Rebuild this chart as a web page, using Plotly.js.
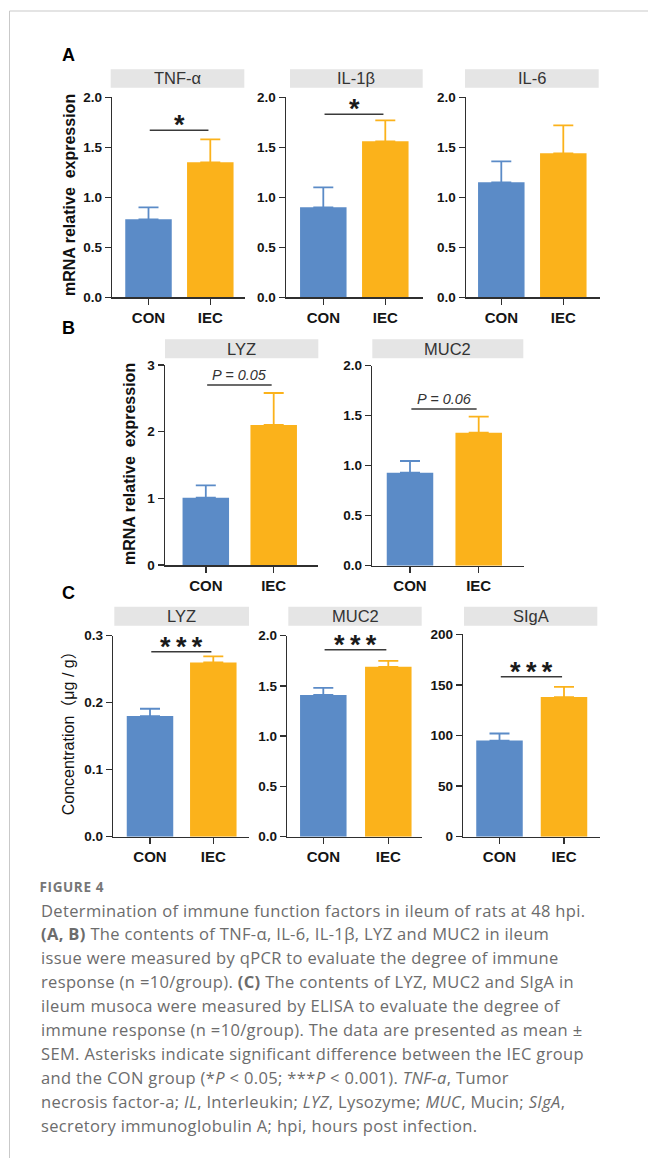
<!DOCTYPE html>
<html>
<head>
<meta charset="utf-8">
<script src="https://cdn.plot.ly/plotly-3.0.1.min.js"></script>
<style>
  html, body { margin: 0; padding: 0; background: #fff; }
  #chart { width: 648px; height: 1158px; }
</style>
</head>
<body>
<div id="chart"></div>
<script>
// ---------------- DATA ----------------
const categories = ['CON', 'IEC'];
const panelTitles = ['TNF-α', 'IL-1β', 'IL-6', 'LYZ', 'MUC2', 'LYZ', 'MUC2', 'SIgA'];
const meanCON = [0.78, 0.90, 1.15, 1.01, 0.93, 0.180, 1.41, 95];
const meanIEC = [1.35, 1.56, 1.44, 2.10, 1.33, 0.260, 1.69, 138];
const semCON  = [0.12, 0.20, 0.21, 0.185, 0.117, 0.011, 0.07, 7];
const semIEC  = [0.23, 0.21, 0.28, 0.48, 0.16, 0.009, 0.06, 10];
const yMax    = [2, 2, 2, 3, 2, 0.3, 2, 200];
const yStep   = [0.5, 0.5, 0.5, 1, 0.5, 0.1, 0.5, 50];
const yFormat = ['.1f', '.1f', '.1f', 'd', '.1f', '.1f', '.1f', 'd'];
const sigLabels = ['*', '*', '', 'P = 0.05', 'P = 0.06', '***', '***', '***'];
const sigLevels = [1.67, 1.83, null, 2.70, 1.567, 0.276, 1.86, 158];
const panelLetters = ['A', 'B', 'C'];
const yTitles = ['mRNA relative\u00a0 expression', 'mRNA relative\u00a0 expression', 'Concentration\uff08\u03bcg / g\uff09'];
const captionHead = 'FIGURE 4';
const captionLines = [
  'Determination of immune function factors in ileum of rats at 48 hpi.',
  '<b>(A, B)</b> The contents of TNF-α, IL-6, IL-1β, LYZ and MUC2 in ileum',
  'issue were measured by qPCR to evaluate the degree of immune',
  'response (n =10/group). <b>(C)</b> The contents of LYZ, MUC2 and SIgA in',
  'ileum musoca were measured by ELISA to evaluate the degree of',
  'immune response (n =10/group). The data are presented as mean ±',
  'SEM. Asterisks indicate significant difference between the IEC group',
  'and the CON group (*<i>P</i> &lt; 0.05; ***<i>P</i> &lt; 0.001). <i>TNF-a</i>, Tumor',
  'necrosis factor-a; <i>IL</i>, Interleukin; <i>LYZ</i>, Lysozyme; <i>MUC</i>, Mucin; <i>SIgA</i>,',
  'secretory immunoglobulin A; hpi, hours post infection.'
];

// ---------------- LAYOUT GEOMETRY (pixels) ----------------
const W = 648, H = 1158;
const geo = [
  {x0:112.3, x1:245,   c0:148.5, c1:210.3, yt:97.3,  yb:297.3, sx0:110.7, sx1:244.3, sy0:69.3,  sy1:87.7},
  {x0:286,   x1:422.7, c0:323.3, c1:385.3, yt:97.3,  yb:297.3, sx0:290,   sx1:422.7, sy0:69.3,  sy1:87.7},
  {x0:466,   x1:600,   c0:501.3, c1:563.3, yt:97.3,  yb:297.3, sx0:465,   sx1:598.7, sy0:69.3,  sy1:87.7},
  {x0:165,   x1:318.3, c0:205.8, c1:273.7, yt:365,   yb:565,   sx0:165,   sx1:318.3, sy0:339.3, sy1:358.3},
  {x0:372.3, x1:524,   c0:410,   c1:478.7, yt:365.7, yb:565.7, sx0:372.3, sx1:523.3, sy0:339.3, sy1:358.3},
  {x0:113.3, x1:249,   c0:150,   c1:213.3, yt:635.7, yb:836.7, sx0:114.3, sx1:249,   sy0:606.7, sy1:625.7},
  {x0:287.3, x1:421.7, c0:323.3, c1:388.3, yt:635.7, yb:836.7, sx0:288.3, sx1:421.7, sy0:606.7, sy1:625.7},
  {x0:463.3, x1:600,   c0:499.5, c1:564,   yt:634.3, yb:836.7, sx0:464,   sx1:597.3, sy0:606.7, sy1:625.7}
];
const px = v => v / W;
const py = v => 1 - v / H;

const BLUE = '#5b8bc7', ORANGE = '#fbb21b';
const FONT = 'Liberation Sans, Arial, sans-serif';
const AXC = '#2f2f2f';

const traces = [];
const layout = {
  width: W, height: H,
  margin: {l: 0, r: 0, t: 0, b: 0},
  paper_bgcolor: '#fff', plot_bgcolor: 'rgba(0,0,0,0)',
  showlegend: false, barmode: 'overlay',
  font: {family: FONT, color: '#222'},
  shapes: [], annotations: []
};

geo.forEach((g, i) => {
  const n = i + 1;
  const xa = 'xaxis' + (n === 1 ? '' : n), ya = 'yaxis' + (n === 1 ? '' : n);
  const xr = 'x' + (n === 1 ? '' : n), yr = 'y' + (n === 1 ? '' : n);
  const s = g.c1 - g.c0;
  const bw = 46.5 / s;
  layout[xa] = {
    domain: [px(g.x0), px(g.x1)], anchor: yr,
    type: 'category', categoryorder: 'array', categoryarray: categories,
    range: [-(g.c0 - g.x0) / s, 1 + (g.x1 - g.c1) / s],
    showline: true, linecolor: AXC, linewidth: 1.5,
    ticks: 'outside', ticklen: 6, tickwidth: 1.5, tickcolor: AXC,
    tickfont: {family: FONT, size: 15, color: '#151515', weight: 'bold'},
    showgrid: false, zeroline: false, fixedrange: true
  };
  layout[ya] = {
    domain: [py(g.yb), py(g.yt)], anchor: xr,
    range: [0, yMax[i]], dtick: yStep[i], tick0: 0, tickformat: yFormat[i],
    showline: true, linecolor: AXC, linewidth: 1.5,
    ticks: 'outside', ticklen: 6, tickwidth: 1.5, tickcolor: AXC,
    tickfont: {family: FONT, size: 13.5, color: '#151515', weight: 'bold'},
    showgrid: false, zeroline: false, fixedrange: true
  };
  traces.push({
    type: 'bar', x: [categories[0]], y: [meanCON[i]], xaxis: xr, yaxis: yr,
    width: bw, marker: {color: BLUE, line: {width: 0}},
    error_y: {type: 'data', symmetric: false, array: [semCON[i]], arrayminus: [0],
              color: BLUE, thickness: 1.8, width: 10},
    hoverinfo: 'skip'
  });
  traces.push({
    type: 'bar', x: [categories[1]], y: [meanIEC[i]], xaxis: xr, yaxis: yr,
    width: bw, marker: {color: ORANGE, line: {width: 0}},
    error_y: {type: 'data', symmetric: false, array: [semIEC[i]], arrayminus: [0],
              color: ORANGE, thickness: 1.8, width: 10},
    hoverinfo: 'skip'
  });
  // strip header
  layout.shapes.push({type: 'rect', xref: 'paper', yref: 'paper',
    x0: px(g.sx0), x1: px(g.sx1), y0: py(g.sy1), y1: py(g.sy0),
    fillcolor: '#e5e5e5', line: {width: 0}, layer: 'below'});
  layout.annotations.push({xref: 'paper', yref: 'paper',
    x: px((g.sx0 + g.sx1) / 2), y: py((g.sy0 + g.sy1) / 2),
    xanchor: 'center', yanchor: 'middle', showarrow: false,
    text: panelTitles[i], font: {family: FONT, size: 16.5, color: '#333'}});
  // significance bracket
  if (sigLevels[i] !== null) {
    layout.shapes.push({type: 'line', xref: xr, yref: yr,
      x0: 0.02, x1: 0.97, y0: sigLevels[i], y1: sigLevels[i],
      line: {color: '#3a3a3a', width: 1.4}});
    const isP = sigLabels[i].startsWith('P');
    layout.annotations.push({xref: xr, yref: yr, x: 0.5, y: sigLevels[i],
      xanchor: 'center', yanchor: 'bottom', showarrow: false,
      yshift: isP ? 0 : -12,
      text: isP ? '<i>' + sigLabels[i] + '</i>' : sigLabels[i].split('').join('\u2009'),
      font: isP ? {family: FONT, size: 14.5, color: '#333'}
                : {family: FONT, size: 27, color: '#1a1a1a', weight: 'bold'}});
  }
});

// panel letters and y-axis titles
const letterPos = [[68.5, 55], [68, 328], [68.5, 593]];
panelLetters.forEach((L, k) => {
  layout.annotations.push({xref: 'paper', yref: 'paper',
    x: px(letterPos[k][0]), y: py(letterPos[k][1]), xanchor: 'center', yanchor: 'middle',
    showarrow: false, text: '<b>' + L + '</b>', font: {family: FONT, size: 18, color: '#000'}});
});
const yTitlePos = [[70, 195, true, 16], [130, 464, true, 16], [68.3, 729, false, 16]];
yTitles.forEach((t, k) => {
  const p = yTitlePos[k];
  layout.annotations.push({xref: 'paper', yref: 'paper',
    x: px(p[0]), y: py(p[1]), xanchor: 'center', yanchor: 'middle', textangle: -90,
    showarrow: false, text: p[2] ? '<b>' + t + '</b>' : t,
    font: {family: FONT + ', Noto Sans CJK SC', size: p[3], color: '#111'}});
});

// caption
const CAPF = 'Open Sans, Lato, sans-serif';
const captionStart = layout.annotations.length;
layout.annotations.push({xref: 'paper', yref: 'paper', x: px(40), y: py(886.7),
  xanchor: 'left', yanchor: 'middle', showarrow: false, text: '<b>' + captionHead + '</b>',
  font: {family: CAPF, size: 13.5, color: '#777'}});
captionLines.forEach((t, k) => {
  layout.annotations.push({xref: 'paper', yref: 'paper', x: px(39), y: py(910 + k * 23.9),
    xanchor: 'left', yanchor: 'middle', showarrow: false, align: 'left', text: t,
    font: {family: CAPF, size: 16.5, color: '#6c6c6c'}});
});

// page frame lines
layout.shapes.push({type: 'line', xref: 'paper', yref: 'paper',
  x0: px(9.5), x1: 1, y0: py(11), y1: py(11), line: {color: '#c9c9c9', width: 1}});
layout.shapes.push({type: 'line', xref: 'paper', yref: 'paper',
  x0: px(9.5), x1: px(9.5), y0: py(11), y1: 0, line: {color: '#c9c9c9', width: 1}});

Plotly.newPlot('chart', traces, layout, {displayModeBar: false, staticPlot: true}).then(() => {
  document.querySelectorAll('#chart g.annotation').forEach(g => {
    const idx = +g.getAttribute('data-index');
    if (idx >= captionStart) {
      const t = g.querySelector('text.annotation-text');
      if (t) t.style.letterSpacing = idx === captionStart ? '0.6px' : '0.35px';
    }
  });
});
</script>
</body>
</html>
